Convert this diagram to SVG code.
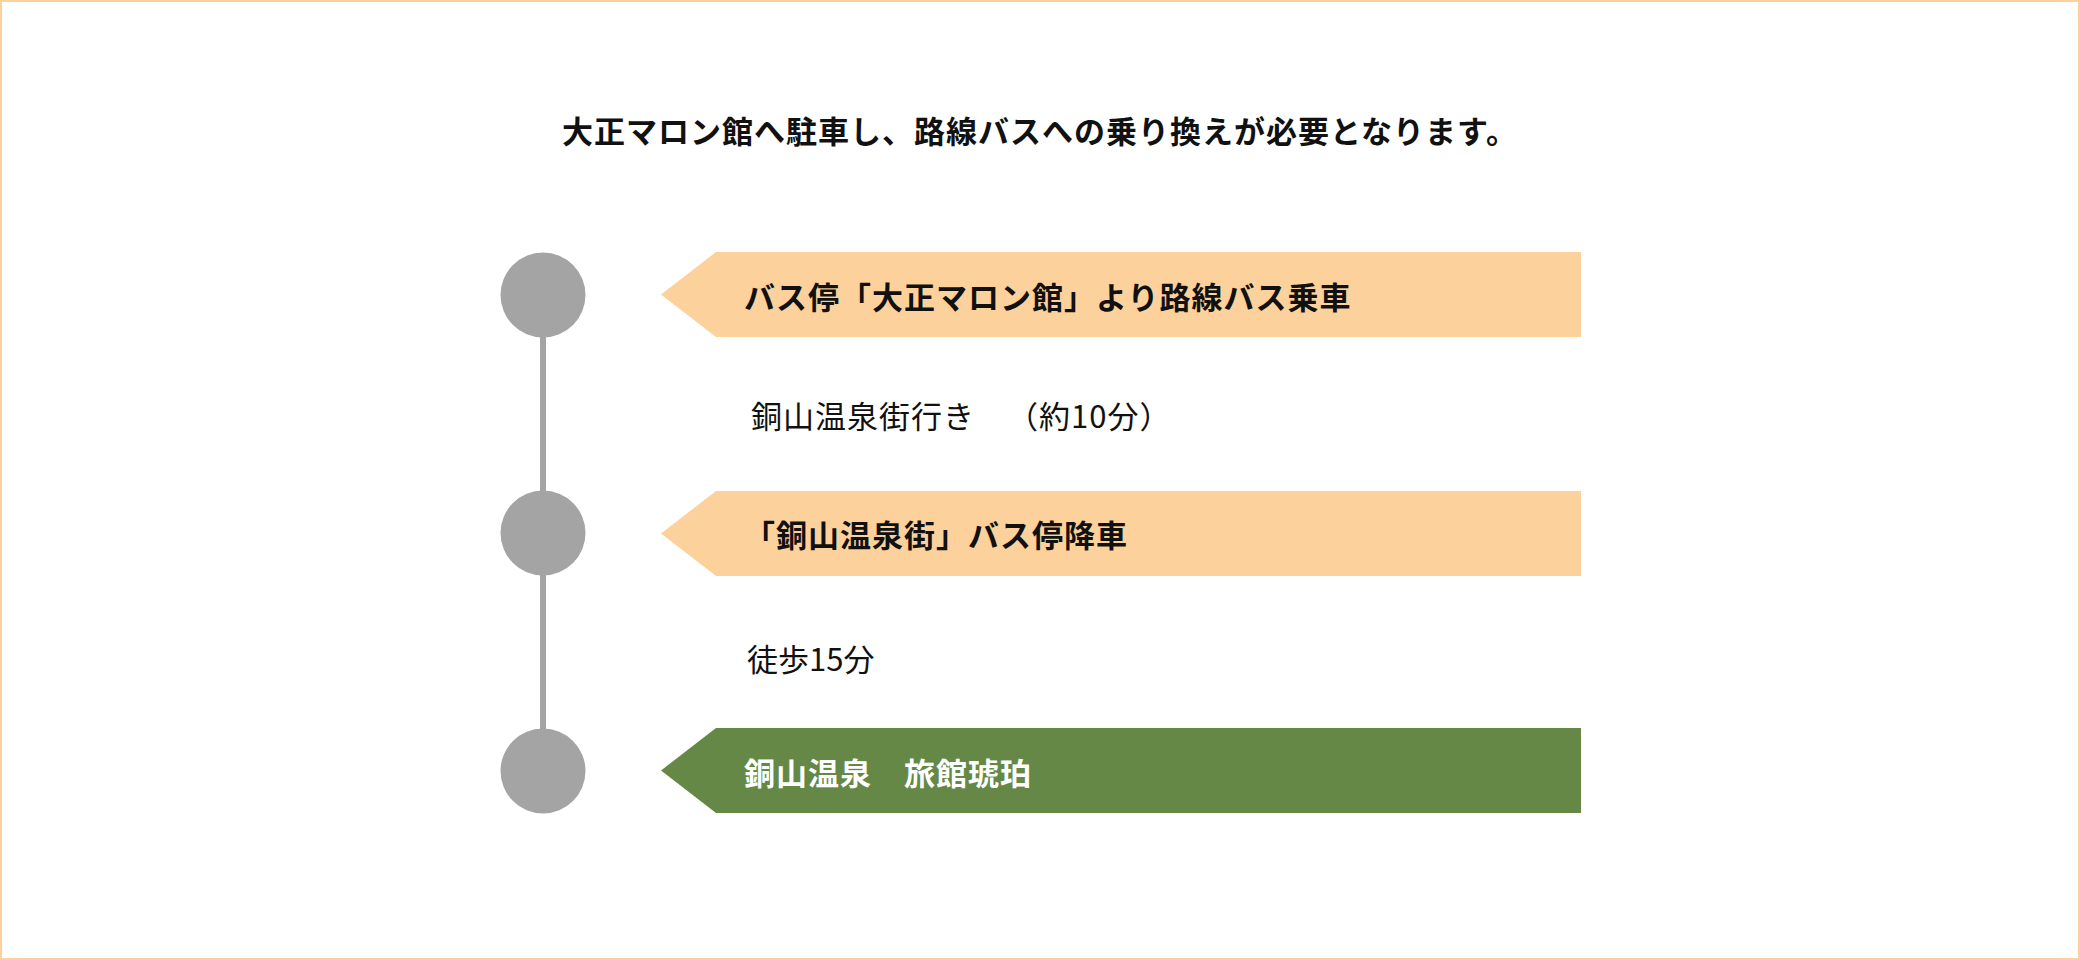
<svg xmlns="http://www.w3.org/2000/svg" width="2080" height="960" viewBox="0 0 2080 960">
<style>
  .t { font-family: "Noto Sans CJK JP", "Noto Sans", sans-serif; font-size: 31px; fill: #111; dominant-baseline: central; letter-spacing: 1px; }
  .b { font-weight: 700; }
  .w { fill: #ffffff; }
  .dot { fill: #a4a4a4; }
  .peach { fill: #fdd19b; }
  .green { fill: #658846; }
  .line { stroke: #a4a4a4; stroke-width: 6; fill: none; }
</style>
<rect x="1" y="1" width="2078" height="958" fill="#ffffff" stroke="#fdd19b" stroke-width="2"/>
<g id="title">
  <text class="t b" x="1040" y="129" text-anchor="middle">大正マロン館へ駐車し、路線バスへの乗り換えが必要となります。</text>
</g>
<g id="connectors">
  <line class="line" x1="543" y1="295" x2="543" y2="533"/>
  <line class="line" x1="543" y1="533" x2="543" y2="771"/>
</g>
<g id="step1">
  <circle class="dot" cx="543" cy="295" r="42.5"/>
  <polygon class="peach" points="661,294.5 716,252 1581,252 1581,337 716,337"/>
  <text class="t b" x="744" y="295">バス停「大正マロン館」より路線バス乗車</text>
</g>
<g id="label1">
  <text class="t" x="751" y="414">銅山温泉街行き<tspan x="1007">（約10分）</tspan></text>
</g>
<g id="step2">
  <circle class="dot" cx="543" cy="533" r="42.5"/>
  <polygon class="peach" points="661,533.5 716,491 1581,491 1581,576 716,576"/>
  <text class="t b" x="744" y="533">「銅山温泉街」バス停降車</text>
</g>
<g id="label2">
  <text class="t" x="747" y="657" style="letter-spacing:0px">徒歩15分</text>
</g>
<g id="step3">
  <circle class="dot" cx="543" cy="771" r="42.5"/>
  <polygon class="green" points="661,770.5 716,728 1581,728 1581,813 716,813"/>
  <text class="t b w" x="744" y="771">銅山温泉　旅館琥珀</text>
</g>
</svg>
